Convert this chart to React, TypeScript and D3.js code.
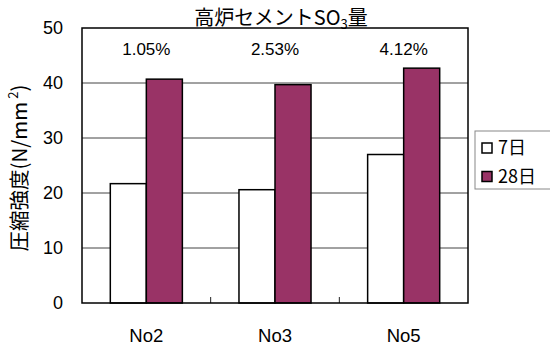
import React from "react";
import * as d3 from "d3";

const categories = ["No2", "No3", "No5"];
const series = ["7日", "28日"];
const day7 = [21.7, 20.6, 27.0];
const day28 = [40.7, 39.7, 42.7];
const so3Labels = ["1.05%", "2.53%", "4.12%"];
const yTicks = [0, 10, 20, 30, 40, 50];

const W = 550;
const H = 351;
const left = 82;
const right = 468;
const top = 28;
const bottom = 303;
const colors = ["#ffffff", "#993366"];
const font = "'Liberation Sans', Arial, 'Noto Sans CJK JP', sans-serif";
const jpFont = "'Noto Sans CJK JP', 'Liberation Sans', sans-serif";

export default function App() {
  const x = d3
    .scaleBand<string>()
    .domain(categories)
    .range([left, right])
    .paddingInner(0.44)
    .paddingOuter(0.22);
  const xs = d3.scaleBand<string>().domain(series).range([0, x.bandwidth()]);
  const y = d3.scaleLinear().domain([0, 50]).range([bottom, top]);
  const values = [day7, day28];
  const step = (right - left) / categories.length;
  const boundaries = d3.range(1, categories.length).map((i) => left + step * i);

  return (
    <svg
      width={W}
      height={H}
      style={{ position: "absolute", left: 0, top: 0, background: "#fff" }}
    >
      <rect x={0} y={0} width={W} height={H} fill="#fff" />
      {/* gridlines */}
      {yTicks.slice(1, -1).map((t) => (
        <line key={t} x1={left} x2={right} y1={y(t)} y2={y(t)} stroke="#444" strokeWidth={1} />
      ))}
      {/* category boundary ticks */}
      {boundaries.map((b, i) => (
        <line key={i} x1={b} x2={b} y1={bottom} y2={bottom - 6} stroke="#222" strokeWidth={1} />
      ))}
      {/* bars */}
      {categories.map((c, ci) =>
        series.map((s, si) => (
          <rect
            key={c + s}
            x={(x(c) as number) + (xs(s) as number)}
            y={y(values[si][ci])}
            width={xs.bandwidth()}
            height={bottom - y(values[si][ci])}
            fill={colors[si]}
            stroke="#000"
            strokeWidth={1.5}
          />
        ))
      )}
      {/* plot frame */}
      <rect x={left} y={top} width={right - left} height={bottom - top} fill="none" stroke="#000" strokeWidth={1.5} />
      {/* y tick labels */}
      {yTicks.map((t) => (
        <text key={t} x={63} y={y(t)} dy="0.36em" textAnchor="end" fontSize={18} fontFamily={font} fill="#000">
          {t}
        </text>
      ))}
      {/* category labels */}
      {categories.map((c) => (
        <text
          key={c}
          x={(x(c) as number) + x.bandwidth() / 2}
          y={335}
          dy="0.36em"
          textAnchor="middle"
          fontSize={18.5}
          fontFamily={font}
          fill="#000"
        >
          {c}
        </text>
      ))}
      {/* SO3 content labels */}
      {categories.map((c, i) => (
        <text
          key={c}
          x={(x(c) as number) + x.bandwidth() / 2}
          y={49}
          dy="0.36em"
          textAnchor="middle"
          fontSize={17}
          fontFamily={font}
          fill="#000"
        >
          {so3Labels[i]}
        </text>
      ))}
      {/* title */}
      <text x={281} y={25} textAnchor="middle" fontSize={20} fontFamily={jpFont} fill="#000">
        高炉セメントSO
        <tspan fontSize={13} dy={4}>3</tspan>
        <tspan dy={-4}>量</tspan>
      </text>
      {/* y axis title */}
      <text
        transform={`translate(27,${168}) rotate(-90)`}
        textAnchor="middle"
        fontSize={20.5}
        fontFamily={jpFont}
        fill="#000"
      >
        圧縮強度(N/mm
        <tspan fontSize={13} dy={-9}> 2</tspan>
        <tspan dy={9}>)</tspan>
      </text>
      {/* legend */}
      <rect x={475} y={131} width={80} height={58} fill="#fff" stroke="#888" strokeWidth={1} />
      {series.map((s, i) => (
        <g key={s} transform={`translate(482,${148 + i * 28.5})`}>
          <rect x={0} y={-5} width={10} height={10} fill={colors[i]} stroke="#000" strokeWidth={1.5} />
          <text x={16} y={0} dy="0.36em" fontSize={18} fontFamily={jpFont} fill="#000">
            {s}
          </text>
        </g>
      ))}
    </svg>
  );
}
